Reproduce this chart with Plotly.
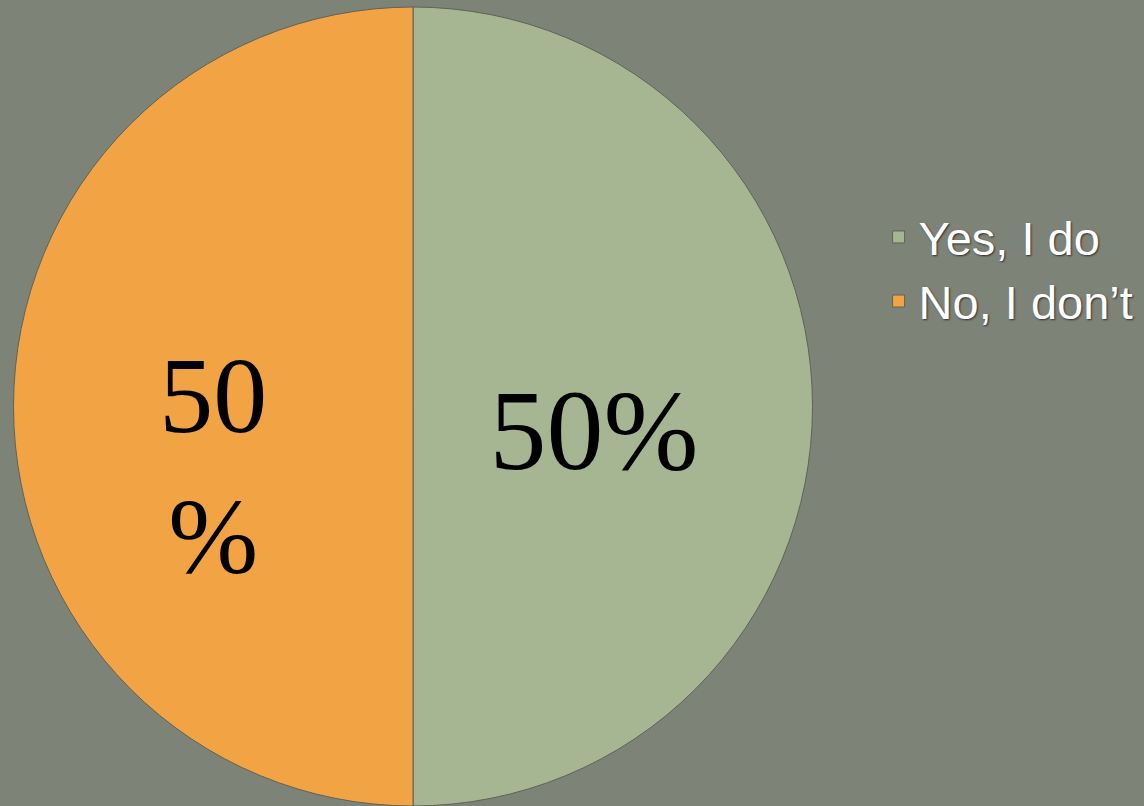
import plotly.graph_objects as go

labels = ["Yes, I do", "No, I don\u2019t"]
values = [50, 50]
slice_texts = ["<span style='font-size:1px'>\u00a0</span><br>50%<span style='font-size:50px'>\u00a0\u00a0\u00a0</span>",
               "<span style='font-size:84px'>\u00a0</span><br>50<br>%"]
colors = ["#a6b592", "#f2a344"]
label_sizes = [114, 108]

fig = go.Figure()
fig.add_trace(go.Pie(
    labels=labels,
    values=values,
    text=slice_texts,
    textinfo="text",
    texttemplate="%{text}",
    textposition="inside",
    insidetextorientation="horizontal",
    sort=False,
    direction="clockwise",
    rotation=0,
    marker=dict(colors=colors, line=dict(color="#5f6357", width=1)),
    textfont=dict(family="Liberation Serif, Times New Roman, serif", size=label_sizes, color="#000000"),
    domain=dict(x=[13/1144, 813/1144], y=[0, 799/806]),
    hoverinfo="label+percent",
))

fig.update_layout(
    width=1144,
    height=806,
    margin=dict(l=0, r=0, t=0, b=0),
    paper_bgcolor="#7e8378",
    plot_bgcolor="#7e8378",
    legend=dict(
        x=0.768, y=0.752, xanchor="left", yanchor="top",
        font=dict(family="Liberation Sans, Arial, sans-serif", size=47, color="#ffffff",
                  shadow="1px 1px 2px #303030"),
        bgcolor="rgba(0,0,0,0)",
        itemwidth=30,
        tracegroupgap=0,
    ),
    showlegend=True,
)

fig.write_html("out.html",
               config={"displayModeBar": False},
               post_script="document.body.style.margin='0';document.body.style.background='#7e8378';")
